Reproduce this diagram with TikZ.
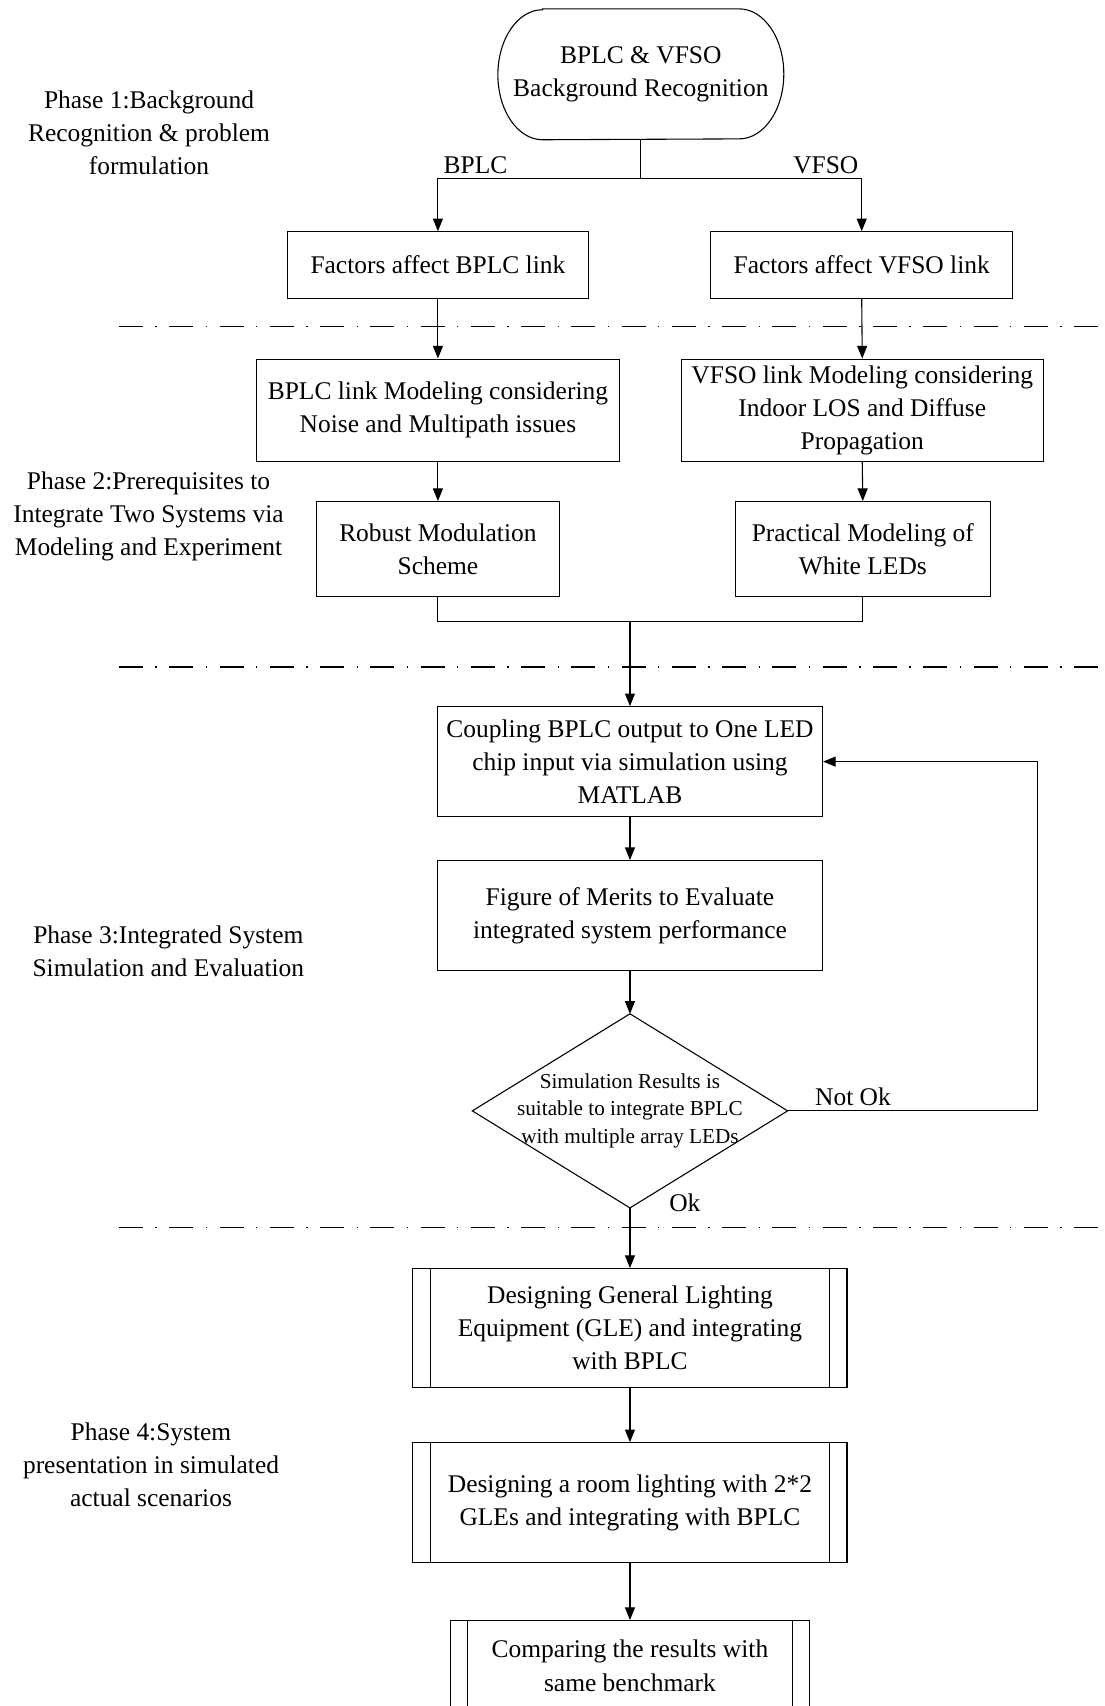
\documentclass[tikz,border=0pt]{standalone}
\usepackage{fontspec}
\setmainfont{Liberation Serif}
\usetikzlibrary{arrows.meta}
\begin{document}
\begin{tikzpicture}[x=0.5pt,y=-0.5pt,
  basetext/.style={font=\fontsize{11.7pt}{15.25pt}\selectfont, align=center, inner sep=0pt},
  procbox/.style={basetext, draw, line width=0.5pt},
  dtext/.style={font=\fontsize{9.75pt}{12.6pt}\selectfont, align=center, inner sep=0pt},
  arr/.style={-{Triangle[length=5.8pt,width=4.6pt]}, line width=0.5pt},
  conn/.style={line width=0.5pt},
  phasesep/.style={line width=0.6pt, dash pattern=on 11pt off 5.75pt on 0.6pt off 5.75pt},
]
\useasboundingbox (0,0) rectangle (1015.6,1568);
\clip (0,0) rectangle (1015.6,1568);

% phase labels
\node[basetext] (p1) at (137,122) {Phase 1:Background\\Recognition \& problem\\formulation};
\node[basetext] (p2) at (136.5,474.5) {Phase 2:Prerequisites to\\Integrate Two Systems via\\Modeling and Experiment};
\node[basetext] (p3) at (154.7,874) {Phase 3:Integrated System\\Simulation and Evaluation};
\node[basetext] (p4) at (138.8,1346) {Phase 4:System\\presentation in simulated\\actual scenarios};

% separators
\draw[phasesep] (109.4,300.4) -- (1016,300.4);
\draw[phasesep] (109.4,613) -- (1016,613);
\draw[phasesep] (109.4,1127.9) -- (1016,1127.9);

% terminal
\node[basetext, minimum width=131pt, minimum height=59.75pt] (start) at (589,68.3) {BPLC \& VFSO\\Background Recognition};
\draw[conn] ([xshift=20.5pt]start.north west) -- ([xshift=-20.5pt]start.north east)
  arc[start angle=90,end angle=-90,x radius=20.5pt,y radius=29.875pt]
  -- ([xshift=20.5pt]start.south west)
  arc[start angle=270,end angle=90,x radius=20.5pt,y radius=29.875pt] -- cycle;

% boxes
\node[procbox, minimum width=138.5pt, minimum height=30.5pt] (fb) at (402.5,243.5) {Factors affect BPLC link};
\node[procbox, minimum width=139pt, minimum height=30.5pt] (fv) at (792,243.5) {Factors affect VFSO link};
\node[procbox, minimum width=166.5pt, minimum height=47pt] (mb) at (402.5,377) {BPLC link Modeling considering\\Noise and Multipath issues};
\node[procbox, minimum width=166.5pt, minimum height=47pt] (mv) at (792.5,377) {VFSO link Modeling considering\\Indoor LOS and Diffuse\\Propagation};
\node[procbox, minimum width=111.5pt, minimum height=43.5pt] (rb) at (402.5,504.5) {Robust Modulation\\Scheme};
\node[procbox, minimum width=117pt, minimum height=43.5pt] (pv) at (793,504.5) {Practical Modeling of\\White LEDs};
\node[procbox, minimum width=177pt, minimum height=50.5pt] (cp) at (579,700) {Coupling BPLC output to One LED\\chip input via simulation using\\MATLAB};
\node[procbox, minimum width=177pt, minimum height=50.5pt] (fm) at (579,841.5) {Figure of Merits to Evaluate\\integrated system performance};

% decision
\node[dtext, minimum width=144.5pt, minimum height=88.8pt] (dm) at (579,1021) {Simulation Results is\\suitable to integrate BPLC\\with multiple array LEDs};
\draw[conn] (dm.north) -- (dm.east) -- (dm.south) -- (dm.west) -- cycle;

% predefined process boxes
\node[procbox, minimum width=199.5pt, minimum height=54.6pt] (g1) at (579,1220.5) {Designing General Lighting\\Equipment (GLE) and integrating\\with BPLC};
\node[procbox, minimum width=199.5pt, minimum height=55pt] (g2) at (579,1381) {Designing a room lighting with 2*2\\GLEs and integrating with BPLC};
\node[procbox, minimum width=165pt, minimum height=41.5pt] (g3) at (579,1531) {Comparing the results with\\same benchmark};
\foreach \n/\d in {g1/8.25pt, g2/8.25pt, g3/8pt}{
  \draw[conn] ([xshift=\d]\n.north west) -- ([xshift=\d]\n.south west);
  \draw[conn] ([xshift=-\d]\n.north east) -- ([xshift=-\d]\n.south east);
}

% branch labels
\node[basetext] (lb) at (437,152) {BPLC};
\node[basetext] (lv) at (759,152) {VFSO};
\node[basetext] (lno) at (784,1008) {Not Ok};
\node[basetext] (lok) at (629.5,1105.5) {Ok};

% connectors
\coordinate (jl) at (402.5,164);
\coordinate (jr) at (792,164);
\coordinate (jm) at (579,571.6);
\coordinate (fbk) at (953.5,700);
\draw[conn] (start.south) -- (start.south |- jl);
\draw[conn] (jl) -- (jr);
\draw[arr] (jl) -- (fb.north);
\draw[arr] (jr) -- (fv.north);
\draw[arr] (fb.south) -- (mb.north);
\draw[arr] (fv.south) -- (mv.north);
\draw[arr] (mb.south) -- (rb.north);
\draw[arr] (mv.south) -- (pv.north);
\draw[conn] (rb.south) -- (rb.south |- jm) -- (pv.south |- jm) -- (pv.south);
\draw[arr] (jm) -- (cp.north);
\draw[arr] (cp.south) -- (fm.north);
\draw[arr] (fm.south) -- (dm.north);
\draw[arr] (dm.south) -- (g1.north);
\draw[arr] (g1.south) -- (g2.north);
\draw[arr] (g2.south) -- (g3.north);
\draw[arr] (dm.east) -| (fbk) -- (cp.east);
\end{tikzpicture}
\end{document}
